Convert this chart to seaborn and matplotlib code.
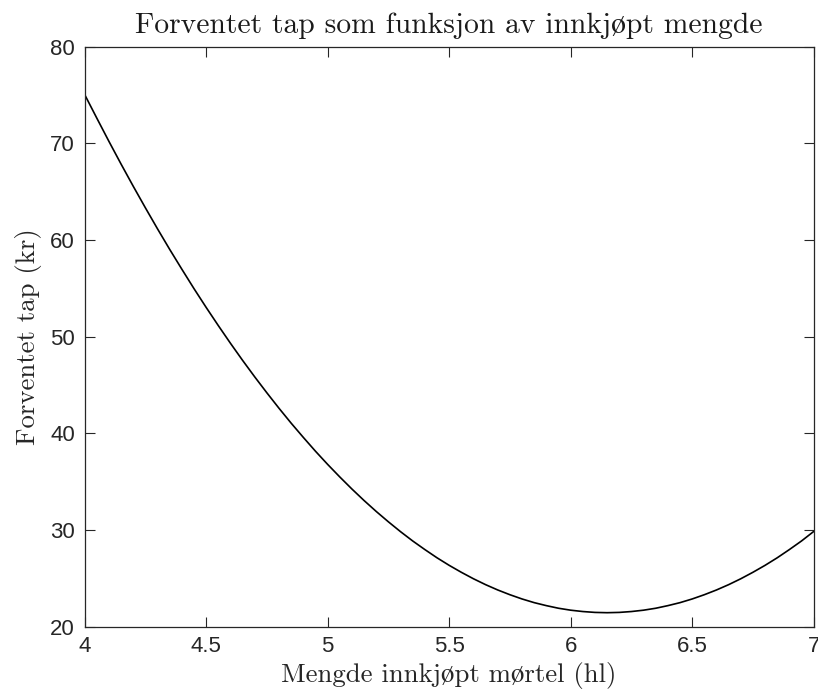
import matplotlib
matplotlib.use("Agg")
import matplotlib.pyplot as plt
import seaborn as sns
import pandas as pd

# Data
mengde = [4.00, 4.05, 4.10, 4.15, 4.20, 4.25, 4.30, 4.35, 4.40, 4.45,
          4.50, 4.55, 4.60, 4.65, 4.70, 4.75, 4.80, 4.85, 4.90, 4.95,
          5.00, 5.05, 5.10, 5.15, 5.20, 5.25, 5.30, 5.35, 5.40, 5.45,
          5.50, 5.55, 5.60, 5.65, 5.70, 5.75, 5.80, 5.85, 5.90, 5.95,
          6.00, 6.05, 6.10, 6.15, 6.20, 6.25, 6.30, 6.35, 6.40, 6.45,
          6.50, 6.55, 6.60, 6.65, 6.70, 6.75, 6.80, 6.85, 6.90, 6.95,
          7.00]
tap = [75.05, 72.61, 70.20, 67.85, 65.56, 63.33, 61.15, 59.03, 56.98, 54.97,
       53.03, 51.15, 49.32, 47.55, 45.84, 44.19, 42.59, 41.05, 39.58, 38.15,
       36.79, 35.49, 34.24, 33.05, 31.92, 30.85, 29.83, 28.87, 27.98, 27.13,
       26.35, 25.63, 24.96, 24.35, 23.80, 23.31, 22.87, 22.49, 22.18, 21.91,
       21.71, 21.57, 21.48, 21.45, 21.48, 21.57, 21.71, 21.91, 22.18, 22.49,
       22.87, 23.31, 23.80, 24.35, 24.96, 25.63, 26.35, 27.13, 27.98, 28.87,
       29.85]
xticks = [4, 4.5, 5, 5.5, 6, 6.5, 7]
xticklabels = ["4", "4.5", "5", "5.5", "6", "6.5", "7"]
yticks = [20, 30, 40, 50, 60, 70, 80]
yticklabels = ["20", "30", "40", "50", "60", "70", "80"]
title = "Forventet tap som funksjon av innkjøpt mengde"
xlabel = "Mengde innkjøpt mørtel (hl)"
ylabel = "Forventet tap (kr)"

df = pd.DataFrame({"x": mengde, "y": tap})

sns.set_theme(style="white")
serif = ["cmr10", "STIXGeneral", "DejaVu Serif"]
sans = ["Liberation Sans", "DejaVu Sans"]
plt.rcParams["font.family"] = serif
plt.rcParams["axes.formatter.use_mathtext"] = True

fig = plt.figure(figsize=(8.18, 6.89), dpi=100)
ax = fig.add_axes([0.1035, 0.0904, 0.8912, 0.8418])
sns.lineplot(data=df, x="x", y="y", color="black", linewidth=1.2, ax=ax)

ax.set_xlim(4, 7)
ax.set_ylim(20, 80)
ax.set_xticks(xticks)
ax.set_xticklabels(xticklabels, family=sans, fontsize=16, color="#262626")
ax.set_yticks(yticks)
ax.set_yticklabels(yticklabels, family=sans, fontsize=16, color="#262626")
ax.tick_params(direction="in", length=7, width=0.8, color="#262626",
               top=True, right=True, bottom=True, left=True, pad=7)
for s in ax.spines.values():
    s.set_visible(True)
    s.set_color("#262626")
    s.set_linewidth(0.9)

ax.set_title(title, fontsize=21.3, family=serif, pad=10, color="#1a1a1a")
ax.set_xlabel(xlabel, fontsize=19.3, family=serif, labelpad=3, color="#262626")
ax.set_ylabel(ylabel, fontsize=19.3, family=serif, labelpad=6, color="#262626")

fig.savefig("out.png", dpi=100)
